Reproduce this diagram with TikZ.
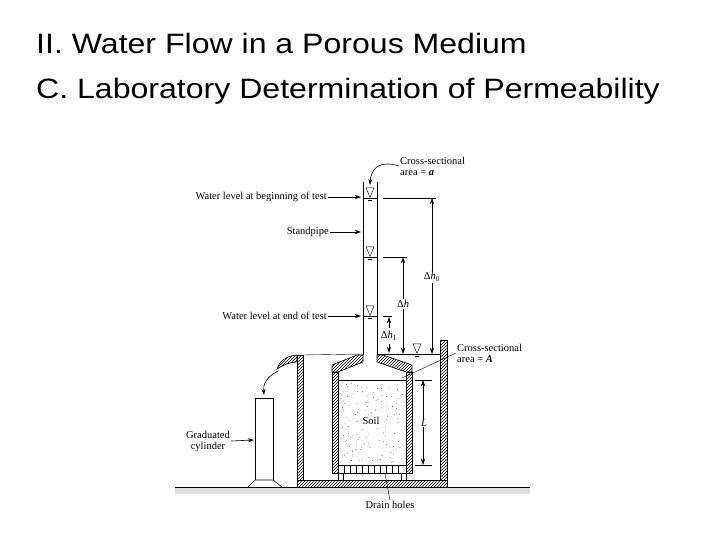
\documentclass[tikz,border=0pt]{standalone}
\usepackage{fontspec}
\setmainfont{Liberation Serif}
\newfontfamily\titlefont{Liberation Sans}
\usetikzlibrary{patterns,arrows.meta}
\tikzset{
  wall/.style={draw, line width=0.6pt, pattern=north east lines},
  lbl/.style={font=\fontsize{10.5}{11}\selectfont, inner sep=1pt},
  ptr/.style={-{Stealth[length=6pt,width=4pt]}, line width=0.6pt},
  dim/.style={line width=0.5pt},
  wlevel/.style={draw, line width=0.4pt, isosceles triangle, shape border rotate=-90, inner sep=0pt, minimum width=8pt, minimum height=6pt}
}
\usetikzlibrary{shapes.geometric}
\newcommand{\titletext}[1]{\scalebox{1.145}[1]{#1}}
\begin{document}
\begin{tikzpicture}[x=1pt,y=-1pt]
    \useasboundingbox (0,0) rectangle (720,540);
    % Titles
    \node[anchor=base west, font=\titlefont\fontsize{28}{32}\selectfont, inner sep=0] (t1) at (36,54) {\titletext{II. Water Flow in a Porous Medium}};
    \node[anchor=base west, font=\titlefont\fontsize{28}{32}\selectfont, inner sep=0] (t2) at (36,99) {\titletext{C. Laboratory Determination of Permeability}};

    % Ground
    \fill[gray!25] (175,487) rectangle (530,494);
    \draw[line width=0.6pt] (175,487) -- (530,487);

    % Outer tank
    \draw[wall] (297,355) rectangle (303,480);
    \draw[wall] (297,480) rectangle (447,487);
    \draw[wall] (440,340) rectangle (447,480);
    \draw[wall] (297,355) .. controls (285,356) and (279,362) .. (277,369)
        .. controls (283,365) and (290,362) .. (297,362) -- cycle;
    \draw[line width=0.4pt] (303,355) -- (363,354);

    % Inner container
    \draw[wall] (332,372) rectangle (338,473);
    \draw[wall] (406,372) rectangle (412,473);
    \draw[wall] (332,372) -- (332,365) -- (357,355) -- (363,355) -- (363,362) -- (338,372) -- cycle;
    \draw[wall] (412,372) -- (412,365) -- (383,355) -- (377,355) -- (377,362) -- (406,372) -- cycle;
    % porous stone and legs
    \draw[line width=0.5pt] (338,465) rectangle (406,473);
    \foreach \i in {344,350,...,402} \draw[line width=0.4pt] (\i,465) -- (\i,473);
    \draw[line width=0.4pt] (338,473) -- (338,480) (343,473) -- (343,480)
        (401,473) -- (401,480) (406,473) -- (406,480);
    % soil
    \draw[line width=0.8pt] (338,380) -- (406,380);
    \pgfmathsetseed{7}
    \foreach \k in {1,...,160} {
      \pgfmathsetmacro{\px}{340+64*rnd}
      \pgfmathsetmacro{\py}{383+80*rnd}
      \fill (\px,\py) circle (0.35pt);
    }
    \node[lbl, fill=white] (soil) at (371,421) {Soil};

    % Standpipe
    \draw[line width=0.5pt] (363,182) -- (363,355);
    \draw[line width=0.9pt] (377,182) -- (377,355);

    % Water levels
    \foreach \y/\n in {198/wa,257/wb,316/wc} {
      \draw[line width=0.4pt] (363,\y) -- (377,\y);
      \node[wlevel, anchor=south] (\n) at (370,\y) {};
    }
    \draw[line width=0.4pt] (377,354) -- (440,354);
    \node[wlevel, anchor=south] (wd) at (417,354) {};
    \foreach \n in {wa,wb,wc,wd} \draw[line width=0.3pt] ([xshift=-2pt,yshift=-2pt]\n.south) -- ([xshift=2pt,yshift=-2pt]\n.south);

    % Dimensions
    \draw[dim] (383,198) -- (436,198);
    \draw[dim, {Stealth[length=6pt,width=4pt]}-{Stealth[length=6pt,width=4pt]}] (432,198) -- (432,354);
    \node[lbl, fill=white] (dh0) at (432,277) {Δ\textit{h}\textsubscript{0}};
    \draw[dim] (383,257) -- (407,257);
    \draw[dim, {Stealth[length=6pt,width=4pt]}-{Stealth[length=6pt,width=4pt]}] (403,257) -- (403,354);
    \node[lbl, fill=white] (dh) at (403,304) {Δ\textit{h}};
    \draw[dim] (383,316) -- (392,316);
    \draw[ptr] (389,328) -- (389,317);
    \draw[ptr] (389,344) -- (389,353);
    \node[lbl] (dh1) at (389,336) {Δ\textit{h}\textsubscript{1}};
    \draw[dim] (415,380) -- (432,380) (415,465) -- (432,465);
    \draw[dim, {Stealth[length=6pt,width=4pt]}-{Stealth[length=6pt,width=4pt]}] (423,380) -- (423,465);
    \node[lbl, fill=white] (len) at (424,423) {\textit{L}};

    % Graduated cylinder
    \draw[line width=0.6pt] (255,480) -- (255,398) -- (273,398) -- (273,480);
    \draw[line width=0.6pt] (255,480) -- (273,480) -- (282,487) (255,480) -- (248,487);
    \draw[ptr] (278,371) .. controls (266,377) and (263,385) .. (264,395);

    % Labels
    \node[lbl, anchor=east] (lbeg) at (328,197) {Water level at beginning of test};
    \draw[ptr] (lbeg.east) -- (361,197);
    \node[lbl, anchor=east] (lsp) at (330,232) {Standpipe};
    \draw[ptr] (lsp.east) -- (361,232);
    \node[lbl, anchor=east] (lend) at (328,316) {Water level at end of test};
    \draw[ptr] (lend.east) -- (361,316);
    \node[lbl, align=left, anchor=west] (lareaa) at (399,166) {Cross-sectional\\area = \textbf{\textit{a}}};
    \draw[ptr] (lareaa.west) .. controls (380,160) and (371,168) .. (370,185);
    \node[lbl, align=left, anchor=west] (lareaA) at (456,353) {Cross-sectional\\area = \textbf{\textit{A}}};
    \draw[line width=0.4pt] (lareaA.west) -- (402,378);
    \node[lbl, align=center] (lgrad) at (208,441) {Graduated\\cylinder};
    \draw[ptr] (lgrad.east) -- (254,440);
    \node[lbl] (ldrain) at (390,505) {Drain holes};
    \draw[line width=0.4pt] (ldrain.north) -- (385,474);
\end{tikzpicture}
\end{document}
